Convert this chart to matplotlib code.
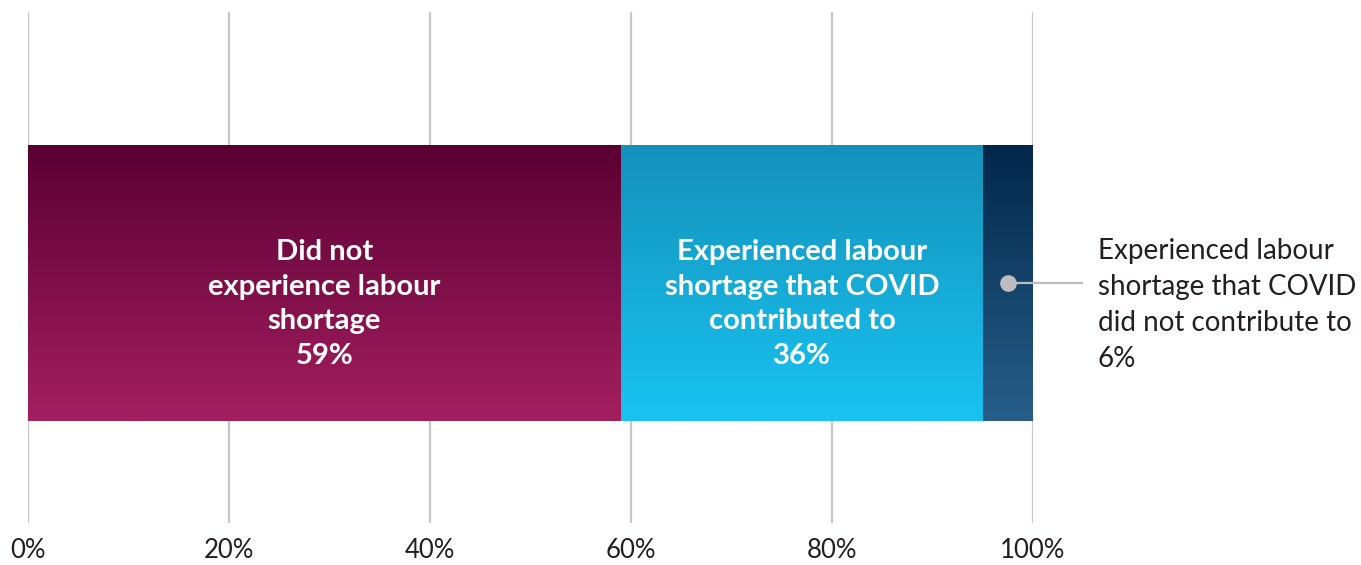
import matplotlib
matplotlib.use("Agg")
import matplotlib.pyplot as plt
import numpy as np
from matplotlib.colors import LinearSegmentedColormap

# ---- data ----
categories = ["Did not\nexperience labour\nshortage",
              "Experienced labour\nshortage that COVID\ncontributed to",
              "Experienced labour\nshortage that COVID\ndid not contribute to"]
values = [59.0, 36.1, 4.9]
value_labels = ["59%", "36%", "6%"]
tick_values = [0, 20, 40, 60, 80, 100]
tick_labels = ["0%", "20%", "40%", "60%", "80%", "100%"]

# ---- style ----
grad_colors = [("#5a0031", "#a31f60"),
               ("#1491ba", "#19c3f1"),
               ("#02274a", "#275e89")]
W, H = 1361, 565
fig = plt.figure(figsize=(W / 100, H / 100), dpi=100)
x0_px, x100_px = 28, 1032.5
ax = fig.add_axes([x0_px / W, 0, (x100_px - x0_px) / W, 1])
ax.set_xlim(0, 100)
ax.set_ylim(H, 0)
ax.axis("off")

font = "Lato"
bar_y, bar_h = 283, 277
grid_top, grid_bot = 12, 523

for t in tick_values:
    ax.plot([t, t], [grid_top, grid_bot], color="#c6c6c8", lw=1.6, zorder=1,
            solid_capstyle="butt")
for t, lab in zip(tick_values, tick_labels):
    ax.text(t, 551, lab, ha="center", va="center", fontsize=18.5,
            family=font, color="#231f20")

lefts = np.concatenate([[0], np.cumsum(values)[:-1]])
bars = ax.barh([bar_y] * len(values), values, left=lefts, height=bar_h,
               facecolor="none", edgecolor="none", zorder=2)
grad = np.linspace(0, 1, 256).reshape(-1, 1)
for b, (ctop, cbot) in zip(bars, grad_colors):
    cmap = LinearSegmentedColormap.from_list("g", [ctop, cbot])
    x, y = b.get_x(), b.get_y()
    w, h = b.get_width(), b.get_height()
    im = ax.imshow(grad, cmap=cmap, aspect="auto", origin="upper",
                   extent=(x, x + w, y + h, y), zorder=2, interpolation="bilinear")
    im.set_clip_path(b)

# inside labels
for i in range(2):
    cx = lefts[i] + values[i] / 2
    ax.text(cx, bar_y + 21, categories[i] + "\n" + value_labels[i], ha="center",
            va="center", fontsize=21, family=font, fontweight="bold",
            color="white", linespacing=1.42, zorder=5)

# outside annotation for the small segment
cx = lefts[2] + values[2] / 2
ax.plot([cx, 104.9], [bar_y, bar_y], color="#bdbdc0", lw=1.6, zorder=4,
        clip_on=False)
ax.plot([cx], [bar_y], marker="o", ms=11, color="#bdbdc0", zorder=5,
        clip_on=False)
ax.text(106.5, bar_y + 22, categories[2] + "\n" + value_labels[2], ha="left",
        va="center", fontsize=20, family=font, color="#231f20",
        linespacing=1.49, clip_on=False)

fig.savefig("out.png", dpi=100, facecolor="white")
